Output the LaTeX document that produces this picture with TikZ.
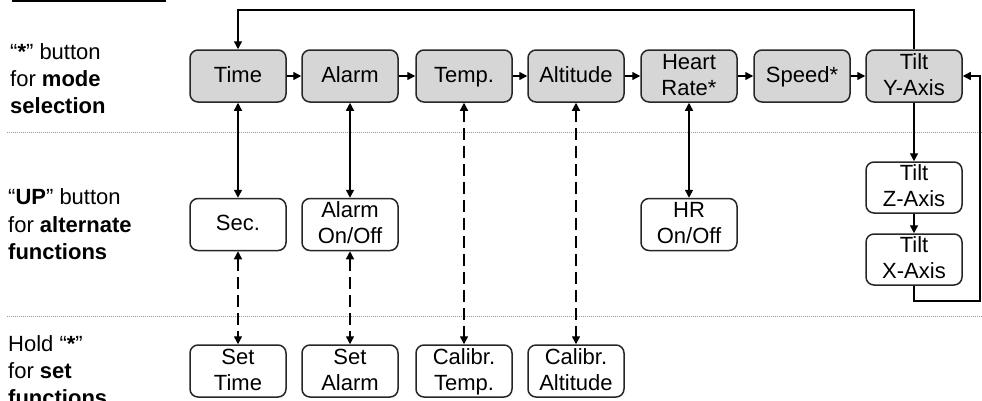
\documentclass[tikz,border=0pt]{standalone}
\usepackage{fontspec}
\setmainfont{Liberation Sans}
\usetikzlibrary{arrows.meta}
\begin{document}
\begin{tikzpicture}[x=1pt,y=-1pt,
  box/.style={draw=black!85, line width=1.5pt, rounded corners=8pt,
    minimum width=96pt, minimum height=52pt, inner sep=0pt, align=center,
    font=\fontsize{22}{26}\selectfont, text height=16pt, text depth=4pt},
  two/.style={text height=42pt, text depth=4pt},
  modebox/.style={box, fill=black!16},
  lbl/.style={anchor=base west, inner sep=0pt, font=\fontsize{22}{27}\selectfont},
  conn/.style={line width=1.4pt, draw=black},
  tip/.style={-{Triangle[length=8pt,width=8pt]}},
  both/.style={{Triangle[length=8pt,width=8pt]}-{Triangle[length=8pt,width=8pt]}},
  dsh/.style={dash pattern=on 12pt off 6pt},
  sep/.style={draw=black!40, line width=0.6pt, dash pattern=on 1pt off 1pt}]
\useasboundingbox (0,0) rectangle (982,400);

% separators
\coordinate (s1a) at (7,132); \coordinate (s1b) at (982,132);
\coordinate (s2a) at (7,316); \coordinate (s2b) at (982,316);
\draw[sep] (s1a) -- (s1b);
\draw[sep] (s2a) -- (s2b);

% cropped title underline
\coordinate (ula) at (12,1); \coordinate (ulb) at (166,1);
\draw[line width=1.6pt] (ula) -- (ulb);

% left labels
\node[lbl] (l1a) at (10,59) {“\textbf{*}” button};
\node[lbl] (l1b) at (10,86) {for \textbf{mode}};
\node[lbl] (l1c) at (10,113) {\textbf{selection}};
\node[lbl] (l2a) at (8,204) {“\textbf{UP}” button};
\node[lbl] (l2b) at (8,232) {for \textbf{alternate}};
\node[lbl] (l2c) at (8,259) {\textbf{functions}};
\node[lbl] (l3a) at (8,351) {Hold “\textbf{*}”};
\node[lbl] (l3b) at (8,378) {for \textbf{set}};
\node[lbl] (l3c) at (8,405) {\textbf{functions}};

% mode row
\node[modebox] (time)  at (238,76) {Time};
\node[modebox] (alarm) at (350,76) {Alarm};
\node[modebox] (temp)  at (464,76) {Temp.};
\node[modebox] (alt)   at (576,76) {Altitude};
\node[modebox,two] (hr)    at (689,76) {Heart\\Rate*};
\node[modebox] (speed) at (802,76) {Speed*};
\node[modebox,two] (tilty) at (914,76) {Tilt\\Y-Axis};

% alternate row
\node[box] (sec)   at (238,224.5) {Sec.};
\node[box,two] (alon)  at (350,224.5) {Alarm\\On/Off};
\node[box,two] (hron)  at (689,224.5) {HR\\On/Off};
\node[box,two, minimum height=51pt] (tiltz) at (914,187.5) {Tilt\\Z-Axis};
\node[box,two, minimum height=51pt] (tiltx) at (914,259.5) {Tilt\\X-Axis};

% set row
\node[box,two] (settime) at (238,371) {Set\\Time};
\node[box,two] (setal)   at (350,371) {Set\\Alarm};
\node[box,two] (caltemp) at (464,371) {Calibr.\\Temp.};
\node[box,two] (calalt)  at (576,371) {Calibr.\\Altitude};

% mode chain
\draw[conn,tip] (time) -- (alarm);
\draw[conn,tip] (alarm) -- (temp);
\draw[conn,tip] (temp) -- (alt);
\draw[conn,tip] (alt) -- (hr);
\draw[conn,tip] (hr) -- (speed);
\draw[conn,tip] (speed) -- (tilty);

% top loop back
\coordinate (topR) at (914,10);
\coordinate (topL) at (238,10);
\draw[conn,tip] (tilty.north) -- (topR) -- (topL) -- (time.north);

% vertical links
\draw[conn,both] (time.south) -- (sec.north);
\draw[conn,both] (alarm.south) -- (alon.north);
\draw[conn,both] (hr.south) -- (hron.north);
\draw[conn,both,dsh] (sec.south) -- (settime.north);
\draw[conn,both,dsh] (alon.south) -- (setal.north);
\draw[conn,both,dsh] (temp.south) -- (caltemp.north);
\draw[conn,both,dsh] (alt.south) -- (calalt.north);

% tilt chain
\draw[conn,tip] (tilty.south) -- (tiltz.north);
\draw[conn,tip] (tiltz.south) -- (tiltx.north);
\coordinate (lb) at (914,301);
\coordinate (br) at (980,301);
\coordinate (tr) at (980,76);
\draw[conn,tip] (tiltx.south) -- (lb) -- (br) -- (tr) -- (tilty.east);
\end{tikzpicture}
\end{document}
